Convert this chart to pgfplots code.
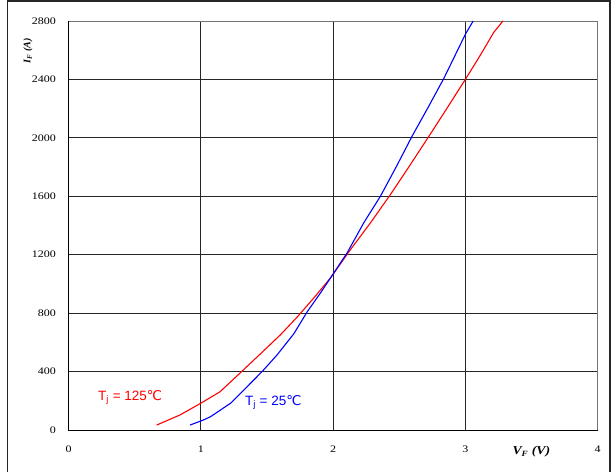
\documentclass[border=0pt]{standalone}
\usepackage{pgfplots}
\pgfplotsset{compat=1.18}
\usepackage{fontspec}
\setmainfont{Liberation Serif}
\newfontfamily\tickfont[FakeStretch=1.2]{Liberation Serif}
\newfontfamily\labfont[FakeStretch=1.15]{Liberation Serif}
\newfontfamily\arial{Liberation Sans}
\newfontfamily\dejavu{DejaVu Sans}
\begin{document}
\begin{tikzpicture}[x=1pt,y=1pt]
\useasboundingbox (0,0) rectangle (612,471);
\draw[line width=1.6pt, black!85] (7.5,-5) -- (7.5,470.2) -- (610,470.2) -- (610,-5);
\begin{axis}[
  at={(68.5pt,41pt)}, anchor=south west,
  scale only axis, width=529pt, height=409pt,
  xmin=0, xmax=4, ymin=0, ymax=2800,
  xtick={0,1,2,3,4}, ytick={0,400,...,2800},
  major tick length=0pt,
  grid=major, major grid style={black!85, line width=0.8pt},
  axis line style={draw=none},
  tick label style={font=\tickfont\fontsize{10}{11}\selectfont},
  /pgf/number format/assume math mode=true,
  /pgf/number format/1000 sep={},
  yticklabel style={xshift=-9pt},
  xticklabel style={yshift=-12.5pt},
  clip=false,
]
\draw[black!55, line width=0.9pt] (axis cs:0,2800) -- (axis cs:4,2800) -- (axis cs:4,0);
\draw[black, line width=0.9pt] (axis cs:0,2800) -- (axis cs:0,0) -- (axis cs:4,0);
\addplot[red, line width=1.1pt, no markers] coordinates {
(0.667,34) (0.843,103) (1.000,183) (1.146,262) (1.309,400) (1.452,522)
(1.603,652) (1.729,773) (1.855,904) (1.981,1041) (2.132,1235) (2.284,1419)
(2.435,1613) (2.580,1810) (2.724,2009) (2.860,2200) (3.002,2402) (3.110,2560)
(3.216,2723) (3.285,2800)
};
\addplot[blue, line width=1.1pt, no markers] coordinates {
(0.919,34) (1.019,68) (1.074,91) (1.225,183) (1.351,297) (1.464,400)
(1.578,515) (1.704,659) (1.804,808) (1.905,938) (1.981,1041) (2.107,1213)
(2.233,1419) (2.359,1601) (2.480,1805) (2.599,2013) (2.720,2210) (2.838,2407)
(3.002,2711) (3.060,2800)
};
\node[anchor=base west, red, font=\arial\fontsize{13.5}{14}\selectfont, inner sep=0pt] at (axis cs:0.223,200) {T\textsubscript{j} = 125{\dejavu ℃}};
\node[anchor=base west, blue, font=\arial\fontsize{13.5}{14}\selectfont, inner sep=0pt] at (axis cs:1.334,171) {T\textsubscript{j} = 25{\dejavu ℃}};
\node[rotate=90, font=\fontsize{10}{11}\selectfont\bfseries\itshape] at (axis cs:-0.306,2594) {I\textsubscript{F} (A)};
\node[font=\labfont\fontsize{12}{13}\selectfont\bfseries\itshape] at (axis cs:3.50,-148) {V\textsubscript{F} (V)};
\end{axis}
\end{tikzpicture}
\end{document}
